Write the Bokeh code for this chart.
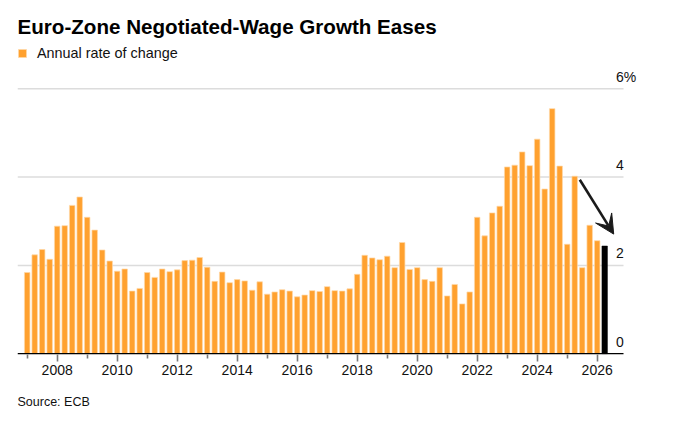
import pandas as pd
from bokeh.plotting import figure
from bokeh.models import (Range1d, FixedTicker, Label, Legend, LegendItem,
                          Arrow, VeeHead, Title)
from bokeh.core.properties import value
from bokeh.embed import file_html
from bokeh.resources import INLINE

# ---------------- data ----------------
TITLE = "Euro-Zone Negotiated-Wage Growth Eases"
SERIES_NAME = "Annual rate of change"
SOURCE = "Source: ECB"

quarters = [str(q) for q in pd.period_range("2007Q1", "2026Q1", freq="Q")]
wage_growth = [
    1.84, 2.24, 2.36, 2.14, 2.89, 2.90, 3.36, 3.55,   # 2007-2008
    3.09, 2.80, 2.35, 2.10, 1.87, 1.92, 1.42, 1.48,   # 2009-2010
    1.84, 1.73, 1.92, 1.86, 1.90, 2.11, 2.12, 2.18,   # 2011-2012
    1.96, 1.64, 1.85, 1.61, 1.68, 1.65, 1.44, 1.63,   # 2013-2014
    1.35, 1.40, 1.45, 1.42, 1.29, 1.33, 1.43, 1.41,   # 2015-2016
    1.52, 1.43, 1.42, 1.47, 1.80, 2.23, 2.17, 2.13,   # 2017-2018
    2.21, 1.95, 2.52, 1.91, 1.95, 1.68, 1.64, 1.95,   # 2019-2020
    1.31, 1.57, 1.13, 1.40, 3.09, 2.67, 3.19, 3.34,   # 2021-2022
    4.23, 4.27, 4.57, 4.26, 4.86, 3.73, 5.55, 4.25,   # 2023-2024
    2.48, 4.02, 1.95, 2.91, 2.56,                     # 2025-2026Q1
]
latest_quarter = "2026Q2"
latest_value = 2.44

y_ticks = [0, 2, 4, 6]
y_tick_labels = ["0", "2", "4", "6%"]
x_major_ticks = list(range(2008, 2027, 2))
x_minor_ticks = list(range(2007, 2027, 2))

arrow_from = (2025.42, 3.94)
arrow_to = (2026.55, 2.71)


def qpos(q):
    return int(q[:4]) + (int(q[-1]) - 1) / 4.0


x_pos = [qpos(q) for q in quarters]

# ---------------- styling / layout ----------------
FONT = "Liberation Sans"
ORANGE = "#ffa12f"
FIG_H = 425
FRAME_H = 354
PX_PER_UNIT = 44.17
X0 = 2006.677
X1 = X0 + 628 / 30.0
GRID_END = 2026.877
YLAB_X = 2026.627
Y0 = -0.016
Y1 = Y0 + FRAME_H / PX_PER_UNIT
LABEL_LIFT = 6 / PX_PER_UNIT

p = figure(width=660, height=FIG_H, x_range=Range1d(X0, X1), y_range=Range1d(Y0, Y1),
           title=None, output_backend="svg", toolbar_location=None,
           y_axis_location=None,
           min_border_left=17, min_border_right=15, min_border_top=0,
           min_border_bottom=FIG_H - FRAME_H, outline_line_color=None,
           background_fill_color="white", border_fill_color="white")
p.grid.visible = False

# grid lines
grid_vals = [v for v in y_ticks if v != 0]
p.segment(x0=[X0] * len(grid_vals), y0=grid_vals, x1=[GRID_END] * len(grid_vals),
          y1=grid_vals, line_color="#dcdcdc", line_width=1.5)

bars = p.vbar(x=x_pos, top=wage_growth, bottom=0, width=0.183,
              fill_color=ORANGE, line_color="#ffd9a8", line_width=0.7)
p.vbar(x=[qpos(latest_quarter)], top=[latest_value], bottom=0, width=0.183,
       fill_color="black", line_color="black", line_width=0.5)

# baseline
p.segment(x0=[X0], y0=[0], x1=[GRID_END], y1=[0], line_color="black", line_width=1.6)

# y labels (sit above their grid lines)
p.text(x=[YLAB_X] * len(y_ticks), y=[v + LABEL_LIFT for v in y_ticks], text=y_tick_labels,
       text_font=value(FONT), text_font_size="14px", text_color="#111111",
       text_baseline="alphabetic", text_align="left", y_offset=-6)

# x axis
ax = p.xaxis[0]
ax.ticker = FixedTicker(ticks=x_major_ticks, minor_ticks=x_minor_ticks)
ax.axis_line_color = None
ax.major_tick_line_color = "#7a7a7a"
ax.major_tick_line_width = 1.6
ax.minor_tick_line_color = "#7a7a7a"
ax.minor_tick_line_width = 1.6
ax.major_tick_in = 0
ax.major_tick_out = 7
ax.minor_tick_in = 0
ax.minor_tick_out = 4
ax.major_label_text_font = FONT
ax.major_label_text_font_size = "14px"
ax.major_label_text_color = "#111111"
ax.major_label_standoff = 3

# arrow
p.add_layout(Arrow(end=VeeHead(size=19, fill_color="#1a1a1a", line_color="#1a1a1a"),
                   x_start=arrow_from[0], y_start=arrow_from[1],
                   x_end=arrow_to[0], y_end=arrow_to[1],
                   line_color="#1a1a1a", line_width=2.6))

# title and legend (inside the frame, which extends to the top of the canvas)
p.add_layout(Label(x=0, y=FRAME_H - 26, x_units="screen", y_units="screen", text=TITLE,
                   text_font=FONT, text_font_size="20.6px", text_font_style="bold",
                   text_color="black", text_baseline="alphabetic"))
legend = Legend(items=[LegendItem(label=SERIES_NAME, renderers=[bars])],
                location=(0, FRAME_H - 62.5), glyph_width=10, glyph_height=10,
                label_height=20, label_standoff=10,
                padding=0, margin=0, spacing=0, border_line_color=None,
                background_fill_alpha=0, label_text_font=FONT,
                label_text_font_size="14.4px", label_text_color="#111111")
p.add_layout(legend)

# source below the axis
p.add_layout(Title(text=SOURCE, align="left", text_font=FONT, text_font_size="12.5px",
                   text_font_style="normal", text_color="#111111", standoff=30,
                   offset=0), "below")

open("out.html", "w").write(file_html(p, INLINE))
